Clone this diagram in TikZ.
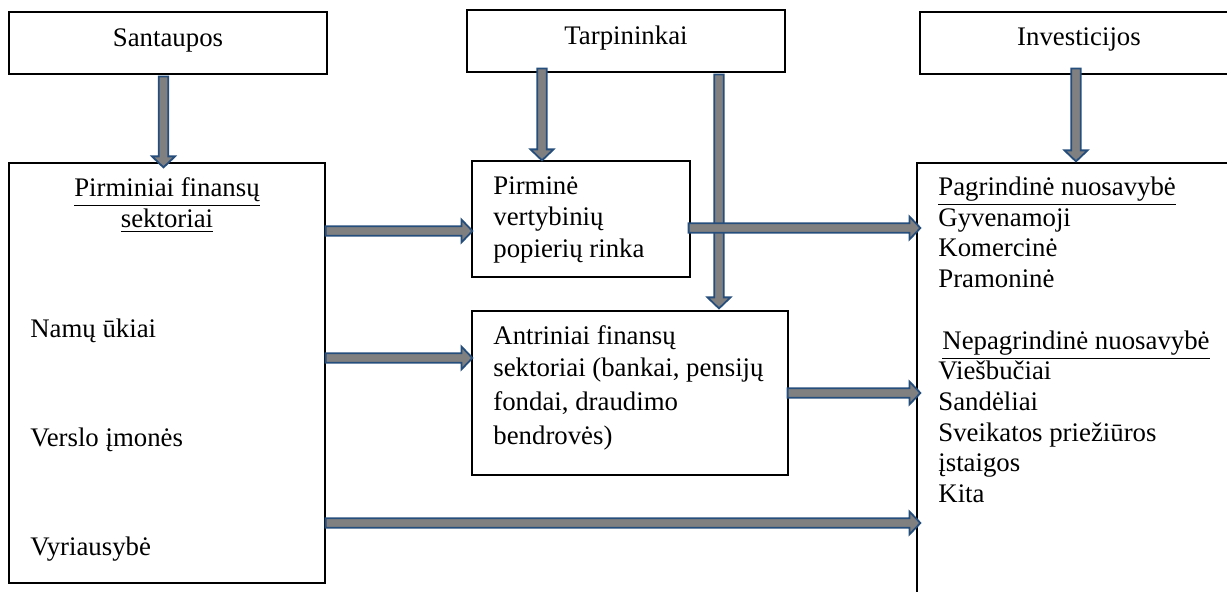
\documentclass[tikz,border=0pt]{standalone}
\usepackage{fontspec}
\setmainfont{Liberation Serif}
\usetikzlibrary{calc}
\definecolor{arrowblue}{RGB}{38,78,124}
\definecolor{arrowgray}{RGB}{128,128,128}
\def\sw{2.4pt}
\def\hw{5.75pt}
\def\hl{5.5pt}
\tikzset{
  box/.style={draw=black, line width=0.6pt, inner sep=0pt},
  txt/.style={inner sep=0pt, font=\fontsize{13.4pt}{15.75pt}\selectfont},
  barrow/.style={draw=arrowblue, fill=arrowgray, line width=0.9pt, line join=miter}
}
% horizontal block arrow: y from start, x from both
\newcommand\harrow[2]{\path[barrow] let \p1=#1, \p2=#2 in
  (\x1,\y1+\sw) -- (\x2-\hl,\y1+\sw) -- (\x2-\hl,\y1+\hw) -- (\x2,\y1) --
  (\x2-\hl,\y1-\hw) -- (\x2-\hl,\y1-\sw) -- (\x1,\y1-\sw) -- cycle;}
% vertical (downward) block arrow: x from start, y from both
\newcommand\varrow[2]{\path[barrow] let \p1=#1, \p2=#2 in
  (\x1-\sw,\y1) -- (\x1-\sw,\y2+\hl) -- (\x1-\hw,\y2+\hl) -- (\x1,\y2) --
  (\x1+\hw,\y2+\hl) -- (\x1+\sw,\y2+\hl) -- (\x1+\sw,\y1) -- cycle;}
\begin{document}
\begin{tikzpicture}[x=0.5pt,y=-0.5pt]
\useasboundingbox (0,0) rectangle (1227,592);
\clip (0,0) rectangle (1227,592);

% boxes
\node[box, minimum width=159pt, minimum height=31pt] (sbox) at (168,43) {};
\node[box, minimum width=159pt, minimum height=31pt] (tbox) at (626,41) {};
\node[box, minimum width=159pt, minimum height=31pt] (ibox) at (1079,43) {};
\node[box, minimum width=158pt, minimum height=210pt] (lbox) at (167,373) {};
\node[box, minimum width=109pt, minimum height=58pt] (pbox) at (581,219) {};
\node[box, minimum width=158pt, minimum height=82pt] (abox) at (630,393) {};
\node[box, minimum width=161.5pt, minimum height=218.5pt] (rbox) at (1078.5,381.5) {};

% texts
\node[txt, anchor=base] (ts) at (168,47) {Santaupos};
\node[txt, anchor=base] (tt) at (626,45) {Tarpininkai};
\node[txt, anchor=base] (ti) at (1079,46) {Investicijos};

\node[txt, anchor=base] (l1) at (167,197) {\underline{Pirminiai finansų}};
\node[txt, anchor=base] (l2) at (167,228) {\underline{sektoriai}};
\node[txt, anchor=base west] (l3) at (30,338) {Namų ūkiai};
\node[txt, anchor=base west] (l4) at (30,447) {Verslo įmonės};
\node[txt, anchor=base west] (l5) at (30,556) {Vyriausybė};

\node[txt, anchor=base west] (p1) at (493,195) {Pirminė};
\node[txt, anchor=base west] (p2) at (493,226) {vertybinių};
\node[txt, anchor=base west] (p3) at (493,258) {popierių rinka};

\node[txt, anchor=base west] (a1) at (493,345) {Antriniai finansų};
\node[txt, anchor=base west] (a2) at (493,377) {sektoriai (bankai, pensijų};
\node[txt, anchor=base west] (a3) at (493,411) {fondai, draudimo};
\node[txt, anchor=base west] (a4) at (493,445) {bendrovės)};

\node[txt, anchor=base west] (r1) at (938,196) {\underline{Pagrindinė nuosavybė}};
\node[txt, anchor=base west] (r2) at (938,227) {Gyvenamoji};
\node[txt, anchor=base west] (r3) at (938,257) {Komercinė};
\node[txt, anchor=base west] (r4) at (938,288) {Pramoninė};
\node[txt, anchor=base west] (r5) at (942,350) {\underline{Nepagrindinė nuosavybė}};
\node[txt, anchor=base west] (r6) at (938,380) {Viešbučiai};
\node[txt, anchor=base west] (r7) at (938,411) {Sandėliai};
\node[txt, anchor=base west] (r8) at (938,442) {Sveikatos priežiūros};
\node[txt, anchor=base west] (r9) at (938,472) {įstaigos};
\node[txt, anchor=base west] (r10) at (938,503) {Kita};

% vertical arrows
\varrow{([xshift=-2.25pt,yshift=-1pt]sbox.south)}{([yshift=-2.5pt]lbox.north)}
\varrow{([xshift=-42pt,yshift=2pt]tbox.south)}{(pbox.north)}
\varrow{([xshift=46.5pt,yshift=-1pt]tbox.south)}{([yshift=1pt]abox.north)}
\varrow{([xshift=-1.5pt,yshift=3pt]ibox.south)}{([yshift=0.5pt]rbox.north)}

% horizontal arrows
\coordinate (y1) at (0,231);
\coordinate (y2) at (0,228);
\coordinate (y3) at (0,358);
\coordinate (y4) at (0,393);
\coordinate (y5) at (0,523);
\harrow{(lbox.east |- y1)}{([xshift=0.5pt]pbox.west |- y1)}
\harrow{([xshift=-1pt]pbox.east |- y2)}{([xshift=2pt]rbox.west |- y2)}
\harrow{(lbox.east |- y3)}{([xshift=0.5pt]abox.west |- y3)}
\harrow{([xshift=-0.5pt]abox.east |- y4)}{([xshift=2pt]rbox.west |- y4)}
\harrow{(lbox.east |- y5)}{([xshift=2pt]rbox.west |- y5)}
\end{tikzpicture}
\end{document}
